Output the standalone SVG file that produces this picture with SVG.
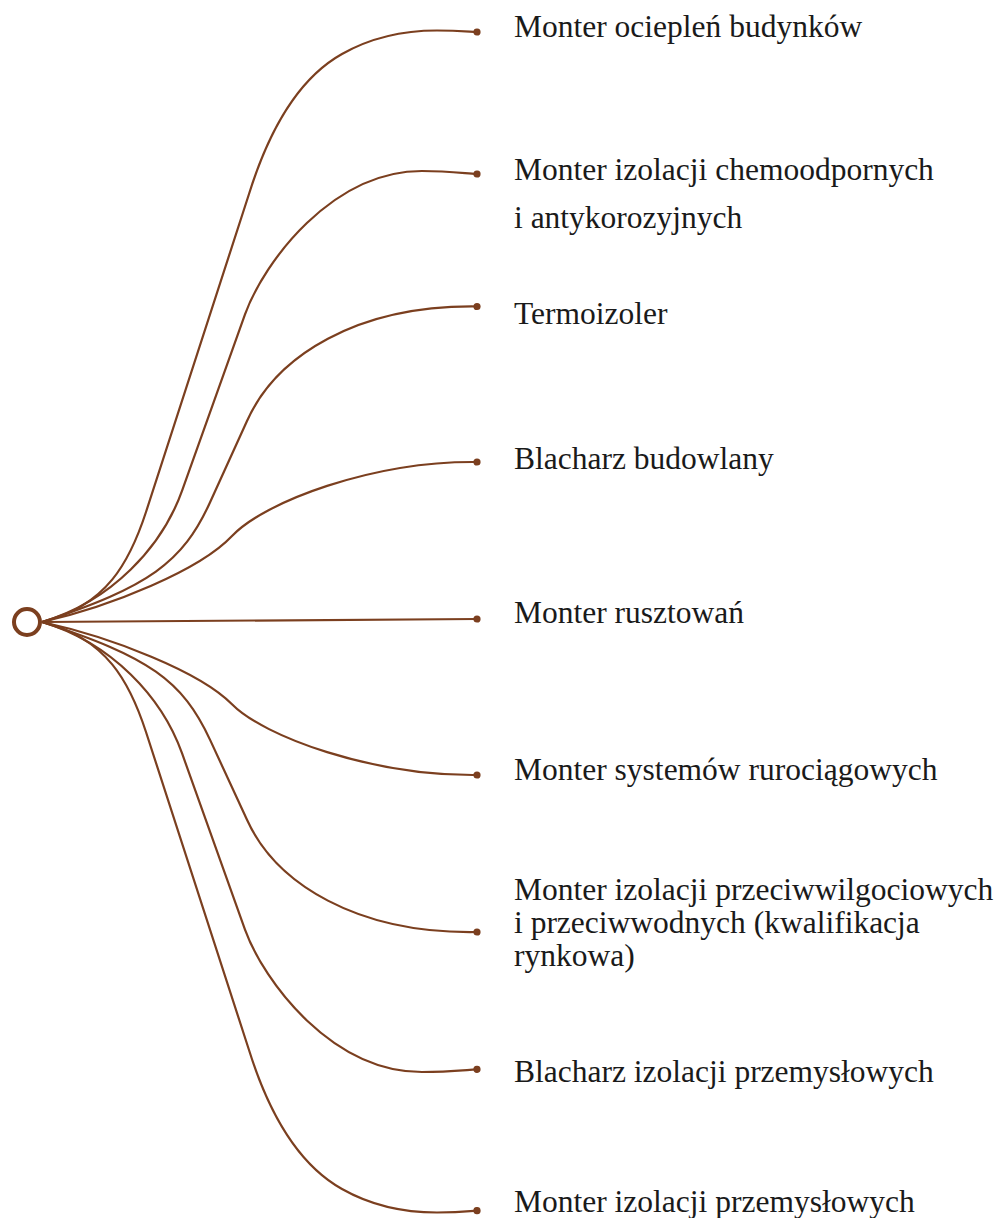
<svg xmlns="http://www.w3.org/2000/svg" width="994" height="1218" viewBox="0 0 994 1218">
<style>
.lbl{font-family:"Liberation Serif","Times New Roman",serif;font-size:31.5px;fill:#1a1a1a}
.link{fill:none;stroke:#7b3f1f;stroke-width:2.2;marker-end:url(#dot)}
</style>
<defs>
<marker id="dot" viewBox="-4 -4 8 8" markerWidth="8" markerHeight="8" refX="0" refY="0" markerUnits="userSpaceOnUse" orient="auto"><circle r="3.6" fill="#7b3f1f"/></marker>
</defs>
<rect width="994" height="1218" fill="#ffffff"/>
<g id="connectors" transform="translate(42,622)">
<path class="link" d="M0,0 C65,-16 88,-61 104,-110 L207,-428 C222,-476 250,-540 300,-568 C330,-585 365,-591.5 395,-591.5 C415,-591.5 425,-590.5 435,-590"/>
<path class="link" d="M0,0 C70,-21 120,-75.2 140,-131.2 L203,-307.6 C222,-360 290,-451 380,-451 C405,-451 420,-449 435,-448"/>
<path class="link" d="M0,0 C107,-35.3 140.6,-59.3 168.2,-120 L205,-201 C234,-266 315,-317 435,-315.5"/>
<path class="link" d="M0,0 C70,-16 158,-52 190,-86 C222,-120 330,-161 435,-160"/>
<path class="link" d="M0,0 L435,-3"/>
<path class="link" d="M0,0 C70,15.3 158,49.7 190,82.2 C222,114.7 330,154 435,153"/>
<path class="link" d="M0,0 C107,34.7 140.6,58.4 168.2,118.1 L205,197.8 C234,261.7 315,312 435,310"/>
<path class="link" d="M0,0 C70,21 120,75.2 140,131.2 L203,307.6 C222,360 290,450 380,450 C405,450 420,448.3 435,447.3"/>
<path class="link" d="M0,0 C65,16 88,61 104,110 L207,428 C222,476 250,539 300,567 C330,584 365,590.5 395,590.5 C415,590.5 425,589.5 435,588.7"/>
</g>
<g id="root"><circle cx="27" cy="622" r="13" fill="#ffffff" stroke="#7b3f1f" stroke-width="4"/></g>
<g id="node-1"><text class="lbl" x="514" y="37">Monter ociepleń budynków</text></g>
<g id="node-2"><text class="lbl" x="514" y="180">Monter izolacji chemoodpornych</text><text class="lbl" x="514" y="228">i antykorozyjnych</text></g>
<g id="node-3"><text class="lbl" x="514" y="324">Termoizoler</text></g>
<g id="node-4"><text class="lbl" x="514" y="469">Blacharz budowlany</text></g>
<g id="node-5"><text class="lbl" x="514" y="623">Monter rusztowań</text></g>
<g id="node-6"><text class="lbl" x="514" y="780">Monter systemów rurociągowych</text></g>
<g id="node-7"><text class="lbl" x="514" y="900">Monter izolacji przeciwwilgociowych</text><text class="lbl" x="514" y="933">i przeciwwodnych (kwalifikacja</text><text class="lbl" x="514" y="966">rynkowa)</text></g>
<g id="node-8"><text class="lbl" x="514" y="1082">Blacharz izolacji przemysłowych</text></g>
<g id="node-9"><text class="lbl" x="514" y="1212">Monter izolacji przemysłowych</text></g>
</svg>
